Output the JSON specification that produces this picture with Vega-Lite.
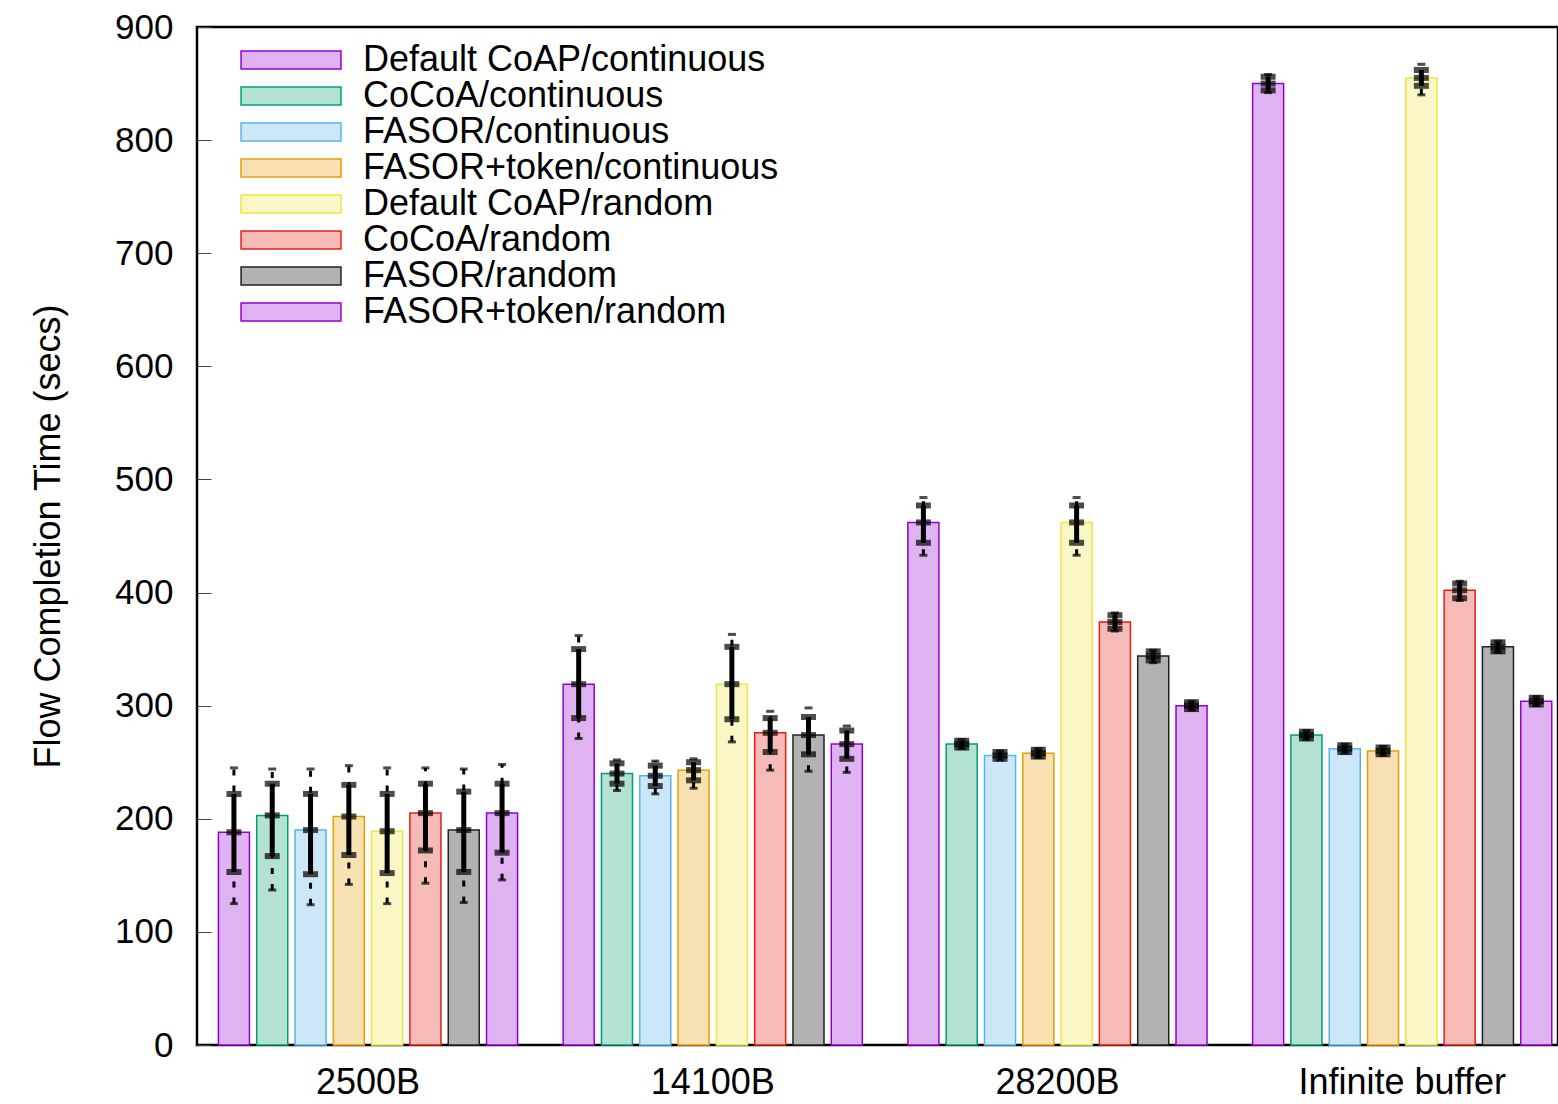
{
  "$schema": "https://vega.github.io/schema/vega-lite/v6.json",
  "width": 1361,
  "height": 1018,
  "autosize": {"type": "none"},
  "padding": {"left": 197, "top": 27, "right": 0, "bottom": 59},
  "background": "white",
  "config": {
    "view": {"stroke": "black", "strokeWidth": 2.5},
    "font": "Liberation Sans",
    "axis": {"labelColor": "black", "titleColor": "black", "labelFont": "Liberation Sans", "titleFont": "Liberation Sans"}
  },
  "data": {
    "values": [
      {"g": "2500B", "s": "Default CoAP/continuous", "m": 188, "lo": 153, "hi": 222, "lo2": 125, "hi2": 245},
      {"g": "2500B", "s": "CoCoA/continuous", "m": 203, "lo": 167, "hi": 231, "lo2": 137, "hi2": 244},
      {"g": "2500B", "s": "FASOR/continuous", "m": 190, "lo": 151, "hi": 222, "lo2": 124, "hi2": 244},
      {"g": "2500B", "s": "FASOR+token/continuous", "m": 202, "lo": 168, "hi": 230, "lo2": 142, "hi2": 247},
      {"g": "2500B", "s": "Default CoAP/random", "m": 189, "lo": 152, "hi": 222, "lo2": 125, "hi2": 245},
      {"g": "2500B", "s": "CoCoA/random", "m": 205, "lo": 172, "hi": 231, "lo2": 143, "hi2": 245},
      {"g": "2500B", "s": "FASOR/random", "m": 190, "lo": 153, "hi": 224, "lo2": 126, "hi2": 244},
      {"g": "2500B", "s": "FASOR+token/random", "m": 205, "lo": 170, "hi": 231, "lo2": 146, "hi2": 248},
      {"g": "14100B", "s": "Default CoAP/continuous", "m": 319, "lo": 289, "hi": 350, "lo2": 271, "hi2": 362},
      {"g": "14100B", "s": "CoCoA/continuous", "m": 240, "lo": 231, "hi": 249, "lo2": 225, "hi2": 252},
      {"g": "14100B", "s": "FASOR/continuous", "m": 238, "lo": 229, "hi": 247, "lo2": 222, "hi2": 251},
      {"g": "14100B", "s": "FASOR+token/continuous", "m": 243, "lo": 234, "hi": 250, "lo2": 227, "hi2": 253},
      {"g": "14100B", "s": "Default CoAP/random", "m": 319, "lo": 288, "hi": 352, "lo2": 268, "hi2": 363},
      {"g": "14100B", "s": "CoCoA/random", "m": 276, "lo": 259, "hi": 289, "lo2": 243, "hi2": 295},
      {"g": "14100B", "s": "FASOR/random", "m": 274, "lo": 257, "hi": 290, "lo2": 242, "hi2": 298},
      {"g": "14100B", "s": "FASOR+token/random", "m": 266, "lo": 253, "hi": 278, "lo2": 241, "hi2": 282},
      {"g": "28200B", "s": "Default CoAP/continuous", "m": 462, "lo": 444, "hi": 477, "lo2": 433, "hi2": 484},
      {"g": "28200B", "s": "CoCoA/continuous", "m": 266, "lo": 263, "hi": 269, "lo2": 262, "hi2": 270},
      {"g": "28200B", "s": "FASOR/continuous", "m": 256, "lo": 253, "hi": 259, "lo2": 252, "hi2": 260},
      {"g": "28200B", "s": "FASOR+token/continuous", "m": 258, "lo": 255, "hi": 261, "lo2": 254, "hi2": 262},
      {"g": "28200B", "s": "Default CoAP/random", "m": 462, "lo": 444, "hi": 477, "lo2": 433, "hi2": 484},
      {"g": "28200B", "s": "CoCoA/random", "m": 374, "lo": 368, "hi": 380, "lo2": 366, "hi2": 382},
      {"g": "28200B", "s": "FASOR/random", "m": 344, "lo": 340, "hi": 348, "lo2": 338, "hi2": 349},
      {"g": "28200B", "s": "FASOR+token/random", "m": 300, "lo": 297, "hi": 303, "lo2": 296, "hi2": 304},
      {"g": "Infinite buffer", "s": "Default CoAP/continuous", "m": 850, "lo": 844, "hi": 856, "lo2": 842, "hi2": 858},
      {"g": "Infinite buffer", "s": "CoCoA/continuous", "m": 274, "lo": 271, "hi": 277, "lo2": 270, "hi2": 278},
      {"g": "Infinite buffer", "s": "FASOR/continuous", "m": 262, "lo": 259, "hi": 265, "lo2": 258, "hi2": 266},
      {"g": "Infinite buffer", "s": "FASOR+token/continuous", "m": 260, "lo": 257, "hi": 263, "lo2": 256, "hi2": 264},
      {"g": "Infinite buffer", "s": "Default CoAP/random", "m": 855, "lo": 848, "hi": 862, "lo2": 840, "hi2": 867},
      {"g": "Infinite buffer", "s": "CoCoA/random", "m": 402, "lo": 395, "hi": 408, "lo2": 393, "hi2": 410},
      {"g": "Infinite buffer", "s": "FASOR/random", "m": 352, "lo": 348, "hi": 356, "lo2": 347, "hi2": 357},
      {"g": "Infinite buffer", "s": "FASOR+token/random", "m": 304, "lo": 301, "hi": 307, "lo2": 300, "hi2": 308}
    ]
  },
  "encoding": {
    "x": {
      "field": "g", "type": "nominal",
      "sort": ["2500B", "14100B", "28200B", "Infinite buffer"],
      "scale": {"paddingInner": 0.11, "paddingOuter": 0.029, "align": 0.88},
      "axis": {"title": null, "labelAngle": 0, "labelFontSize": 36, "labelPadding": 20, "labelLimit": 0, "ticks": false, "domain": false}
    },
    "xOffset": {
      "field": "s", "type": "nominal",
      "sort": ["Default CoAP/continuous", "CoCoA/continuous", "FASOR/continuous", "FASOR+token/continuous", "Default CoAP/random", "CoCoA/random", "FASOR/random", "FASOR+token/random"],
      "scale": {"paddingInner": 0.19, "paddingOuter": 0.1}
    }
  },
  "layer": [
    {
      "mark": {"type": "bar", "strokeWidth": 1.5},
      "encoding": {
        "y": {
          "field": "m", "type": "quantitative",
          "scale": {"domain": [0, 900], "nice": false},
          "axis": {"title": "Flow Completion Time (secs)", "titleFontSize": 36, "titleFontWeight": "normal", "titleX": -149, "titleY": 509, "titleAngle": -90, "titleAlign": "center", "titleBaseline": "middle", "values": [0, 100, 200, 300, 400, 500, 600, 700, 800, 900], "labelFontSize": 35, "labelPadding": 38, "tickSize": -14, "tickColor": "#444444", "tickWidth": 1, "grid": false, "domain": false}
        },
        "fill": {
          "field": "s", "type": "nominal",
          "scale": {
            "domain": ["Default CoAP/continuous", "CoCoA/continuous", "FASOR/continuous", "FASOR+token/continuous", "Default CoAP/random", "CoCoA/random", "FASOR/random", "FASOR+token/random"],
            "range": ["#dfb2f2", "#b3e2d5", "#cce8f8", "#f7e0b2", "#faf6c6", "#f7bbb7", "#b2b2b2", "#dfb2f2"]
          },
          "legend": {
            "title": null, "orient": "none", "legendX": 76, "legendY": 15,
            "symbolType": "M-5.55,-1H5.55V1H-5.55Z", "symbolSize": 324, "symbolStrokeWidth": 1.5,
            "labelFontSize": 36, "labelOffset": 54, "labelLimit": 0, "rowPadding": 0, "labelColor": "black", "padding": 0
          }
        },
        "stroke": {
          "field": "s", "type": "nominal",
          "scale": {
            "domain": ["Default CoAP/continuous", "CoCoA/continuous", "FASOR/continuous", "FASOR+token/continuous", "Default CoAP/random", "CoCoA/random", "FASOR/random", "FASOR+token/random"],
            "range": ["#9400d3", "#009e73", "#56b4e9", "#e69f00", "#f0e442", "#e51e10", "#222222", "#9400d3"]
          },
          "legend": {
            "title": null, "orient": "none", "legendX": 76, "legendY": 15,
            "symbolType": "M-5.55,-1H5.55V1H-5.55Z", "symbolSize": 324, "symbolStrokeWidth": 1.5,
            "labelFontSize": 36, "labelOffset": 54, "labelLimit": 0, "rowPadding": 0, "labelColor": "black", "padding": 0
          }
        }
      }
    },
    {
      "mark": {"type": "rule", "strokeWidth": 3, "strokeDash": [6, 10], "color": "black"},
      "encoding": {"y": {"field": "lo2", "type": "quantitative"}, "y2": {"field": "hi2"}}
    },
    {
      "mark": {"type": "tick", "orient": "horizontal", "size": 8, "thickness": 3, "color": "black"},
      "encoding": {"y": {"field": "lo2", "type": "quantitative"}}
    },
    {
      "mark": {"type": "tick", "orient": "horizontal", "size": 8, "thickness": 3, "color": "black"},
      "encoding": {"y": {"field": "hi2", "type": "quantitative"}}
    },
    {
      "mark": {"type": "rule", "strokeWidth": 5, "color": "black"},
      "encoding": {"y": {"field": "lo", "type": "quantitative"}, "y2": {"field": "hi"}}
    },
    {
      "mark": {"type": "tick", "orient": "horizontal", "size": 15, "thickness": 6, "color": "black"},
      "encoding": {"y": {"field": "lo", "type": "quantitative"}}
    },
    {
      "mark": {"type": "tick", "orient": "horizontal", "size": 15, "thickness": 6, "color": "black"},
      "encoding": {"y": {"field": "hi", "type": "quantitative"}}
    },
    {
      "mark": {"type": "tick", "orient": "horizontal", "size": 15, "thickness": 6, "color": "black"},
      "encoding": {"y": {"field": "m", "type": "quantitative"}}
    }
  ]
}
